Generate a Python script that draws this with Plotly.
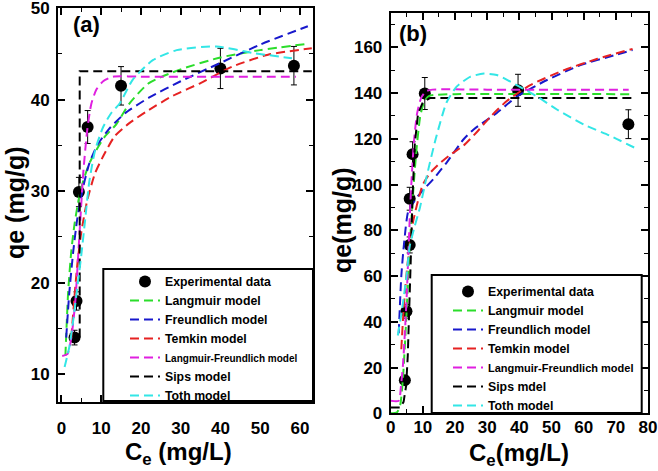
import plotly.graph_objects as go

# ---------------- Panel (a) data ----------------
a_exp_ce = [3.3, 3.8, 4.4, 6.6, 15.0, 40.0, 58.5]
a_exp_q = [14.0, 18.0, 29.9, 37.0, 41.5, 43.4, 43.7]
a_exp_err = [0.8, 1.0, 1.6, 1.8, 2.1, 2.2, 2.1]

a_lang_ce = [1.0, 1.7, 2.5, 3.3, 4.3, 5.4, 7.0, 8.8, 11.0, 13.8, 17.0, 22.0, 30.0, 40.0, 50.0, 62.0]
a_lang_q = [12.0, 19.0, 23.5, 26.4, 29.0, 31.0, 33.0, 34.5, 36.0, 37.3, 39.5, 41.8, 43.3, 44.6, 45.4, 46.1]

a_freu_ce = [1.2, 2.0, 3.0, 4.0, 5.5, 7.0, 9.0, 12.0, 16.0, 22.0, 30.0, 40.0, 50.0, 62.0]
a_freu_q = [14.0, 19.0, 23.5, 27.0, 30.5, 33.0, 35.0, 36.8, 38.5, 40.2, 42.0, 44.0, 46.0, 48.0]

a_temk_ce = [2.5, 3.2, 4.0, 5.0, 6.5, 8.5, 10.5, 13.4, 17.0, 21.4, 28.0, 35.0, 43.0, 52.0, 63.0]
a_temk_q = [14.0, 18.0, 22.0, 25.5, 29.0, 32.0, 33.8, 36.0, 37.4, 38.7, 40.4, 41.8, 43.6, 44.9, 45.6]

a_lf_ce = [0.2, 1.5, 2.5, 3.5, 4.5, 5.5, 6.5, 7.5, 8.8, 10.5, 13.0, 20.0, 40.0, 59.0]
a_lf_q = [12.0, 12.2, 14.0, 18.0, 25.0, 32.0, 36.7, 39.5, 41.1, 42.0, 42.5, 42.5, 42.5, 42.5]

a_sips_ce = [4.6, 4.6, 63.0]
a_sips_q = [14.0, 43.1, 43.1]

a_toth_ce = [0.8, 2.0, 3.0, 4.0, 5.0, 6.0, 7.0, 8.5, 10.5, 12.5, 14.7, 18.0, 23.0, 29.0, 39.0, 48.0, 58.0]
a_toth_q = [10.8, 13.0, 16.0, 19.5, 23.0, 27.0, 31.0, 34.5, 37.0, 38.5, 39.6, 42.2, 44.3, 45.4, 45.8, 45.1, 44.5]

# ---------------- Panel (b) data ----------------
b_exp_ce = [4.4, 4.9, 5.9, 5.9, 6.8, 10.6, 39.6, 73.9]
b_exp_q = [14.5, 44.6, 73.6, 93.8, 113.3, 139.8, 141.2, 126.4]
b_exp_err = [2.0, 3.0, 3.5, 5.0, 5.4, 7.0, 7.0, 6.3]

b_lang_ce = [0.0, 2.0, 3.0, 3.8, 4.5, 5.2, 6.0, 7.0, 8.0, 9.2, 10.5, 12.0, 20.0, 75.0]
b_lang_q = [0.0, 0.5, 4.0, 15.0, 32.0, 52.0, 75.0, 97.0, 115.0, 130.0, 136.5, 138.8, 139.5, 139.5]

b_freu_ce = [2.5, 3.3, 4.2, 5.4, 7.0, 8.5, 11.0, 13.2, 17.4, 22.6, 25.7, 33.0, 39.3, 48.6, 59.0, 69.5, 75.2]
b_freu_q = [35.0, 60.0, 75.0, 88.0, 92.0, 95.0, 99.0, 102.3, 109.6, 119.7, 124.0, 131.3, 138.5, 145.7, 152.2, 156.5, 158.8]

b_temk_ce = [3.3, 4.0, 5.0, 6.0, 7.0, 8.5, 10.0, 12.2, 15.0, 18.5, 22.6, 26.8, 30.9, 36.1, 43.4, 53.9, 64.3, 75.2]
b_temk_q = [28.0, 45.0, 62.0, 75.0, 84.0, 93.0, 100.0, 105.0, 109.0, 113.0, 117.0, 123.0, 129.5, 136.5, 143.5, 150.0, 155.0, 159.3]

b_lf_ce = [0.0, 2.5, 3.2, 3.8, 4.4, 5.0, 5.5, 6.0, 6.6, 7.3, 8.2, 9.5, 11.0, 13.0, 30.0, 74.0]
b_lf_q = [5.5, 5.5, 12.0, 21.0, 35.0, 52.0, 70.0, 88.0, 105.0, 120.0, 131.0, 138.0, 140.8, 141.5, 141.5, 141.5]

b_sips_ce = [0.0, 3.0, 4.0, 4.8, 5.3, 5.8, 6.3, 6.8, 7.5, 8.5, 10.0, 12.2, 75.0]
b_sips_q = [2.5, 2.5, 5.0, 12.0, 25.0, 45.0, 70.0, 95.0, 118.0, 131.0, 136.0, 137.8, 137.8]

b_toth_ce = [2.2, 3.5, 4.9, 5.9, 7.5, 9.1, 11.1, 14.0, 17.4, 20.5, 24.7, 29.0, 33.0, 37.2, 45.5, 51.8, 60.1, 68.4, 75.7]
b_toth_q = [34.0, 45.0, 60.0, 73.0, 82.0, 90.0, 103.0, 120.0, 136.0, 142.8, 147.1, 148.5, 147.9, 145.0, 138.5, 132.7, 126.2, 121.2, 116.2]

# ---------------- styles ----------------
FONT = "Liberation Sans, Arial, sans-serif"
GREEN = "#2BDD2B"
BLUE = "#1818CC"
RED = "#E62222"
MAGENTA = "#E020E0"
BLACK = "#000000"
CYAN = "#33E6E6"
DASH = "9px,5px"

def small(txt, size):
    return '<span style="font-size:%dpx">%s</span>' % (size, txt)

fig = go.Figure()

def add_panel(xa, ya, leg, exp, curves):
    ce, q, err = exp
    fig.add_trace(go.Scatter(
        x=ce, y=q, mode="markers", name="Experimental data",
        marker=dict(color="black", size=12),
        error_y=dict(type="data", array=err, color="black", thickness=1, width=3),
        xaxis=xa, yaxis=ya, legend=leg))
    for name, cx, cy, col, shape in curves:
        fig.add_trace(go.Scatter(
            x=cx, y=cy, mode="lines", name=name,
            line=dict(color=col, width=2, dash=DASH, shape=shape, smoothing=0.6),
            xaxis=xa, yaxis=ya, legend=leg))

add_panel("x", "y", "legend", (a_exp_ce, a_exp_q, a_exp_err), [
    ("Langmuir model", a_lang_ce, a_lang_q, GREEN, "spline"),
    ("Freundlich model", a_freu_ce, a_freu_q, BLUE, "spline"),
    ("Temkin model", a_temk_ce, a_temk_q, RED, "spline"),
    (small("Langmuir-Freundlich model", 10), a_lf_ce, a_lf_q, MAGENTA, "spline"),
    ("Sips model", a_sips_ce, a_sips_q, BLACK, "linear"),
    ("Toth model", a_toth_ce, a_toth_q, CYAN, "spline"),
])

add_panel("x2", "y2", "legend2", (b_exp_ce, b_exp_q, b_exp_err), [
    ("Langmuir model", b_lang_ce, b_lang_q, GREEN, "spline"),
    ("Freundlich model", b_freu_ce, b_freu_q, BLUE, "spline"),
    ("Temkin model", b_temk_ce, b_temk_q, RED, "spline"),
    (small("Langmuir-Freundlich model", 11), b_lf_ce, b_lf_q, MAGENTA, "spline"),
    ("Sips mdel", b_sips_ce, b_sips_q, BLACK, "linear"),
    ("Toth model", b_toth_ce, b_toth_q, CYAN, "spline"),
])

W, H = 658, 471
ML, MR, MT, MB = 58, 10, 8, 56
PW, PH = W - ML - MR, H - MT - MB

def px(x):
    return (x - ML) / PW

def py(y):
    return min(1.0, max(0.0, (MT + PH - y) / PH))

def pyf(y):
    return (MT + PH - y) / PH

tickfont = dict(family=FONT, size=17, color="black", weight="bold")

def axis(domain, rng, dtick, minor, standoff, anchor):
    return dict(domain=domain, range=rng, dtick=dtick, tick0=0, anchor=anchor,
                automargin=False, ticklabeloverflow="allow",
                showline=True, linecolor="black", linewidth=2, mirror="ticks",
                ticks="inside", ticklen=7, tickwidth=1.5, tickcolor="black",
                minor=dict(dtick=minor, ticks="inside", ticklen=4, tickwidth=1.2, tickcolor="black"),
                showgrid=False, zeroline=False, tickfont=tickfont,
                ticklabelstandoff=standoff)

legfont = dict(family=FONT, size=12.3, color="black", weight="bold")

def note(text, x, y, size, angle=0):
    return dict(text=text, x=px(x), y=pyf(y), xref="paper", yref="paper", showarrow=False,
                xanchor="center", yanchor="middle", textangle=angle,
                font=dict(family=FONT, size=size, color="black", weight="bold"))

fig.update_layout(
    width=W, height=H,
    margin=dict(l=ML, r=MR, t=MT, b=MB, autoexpand=False),
    paper_bgcolor="white", plot_bgcolor="rgba(0,0,0,0)",
    xaxis=axis([0, px(313)], [-0.86, 63.3], 10, 5, 10, "y"),
    yaxis=axis([py(401.7), 1.0], [7, 50], 10, 5, 3, "x"),
    xaxis2=axis([px(390.7), 1.0], [0, 80], 10, 5, -3, "y2"),
    yaxis2=axis([py(413.3), py(13)], [0, 175], 20, 10, 3, "x2"),
    legend=dict(x=px(125), y=pyf(267), xanchor="left", yanchor="top",
                bgcolor="rgba(0,0,0,0)", borderwidth=0, font=legfont,
                tracegroupgap=0),
    legend2=dict(x=px(448), y=pyf(277), xanchor="left", yanchor="top",
                 bgcolor="rgba(0,0,0,0)", borderwidth=0, font=legfont,
                 tracegroupgap=0),
    shapes=[
        dict(type="rect", xref="paper", yref="paper",
             x0=px(103.3), x1=px(313), y0=pyf(401), y1=pyf(269),
             line=dict(color="black", width=2), fillcolor="white", layer="above"),
        dict(type="rect", xref="paper", yref="paper",
             x0=px(431.7), x1=px(641.7), y0=pyf(413), y1=pyf(275),
             line=dict(color="black", width=2), fillcolor="white", layer="above"),
    ],
    annotations=[
        note("(a)", 86.5, 25, 22),
        note("(b)", 413, 33, 22),
        note("qe (mg/g)", 15, 203, 25, -90),
        note("qe(mg/g)", 342, 220, 25, -90),
        note("C<sub>e</sub> (mg/L)", 178, 453, 24),
        note("C<sub>e</sub>(mg/L)", 519, 454, 24),
    ],
)

fig.write_html("out.html", config={"displayModeBar": False},
               post_script="document.body.style.margin='0px';")
